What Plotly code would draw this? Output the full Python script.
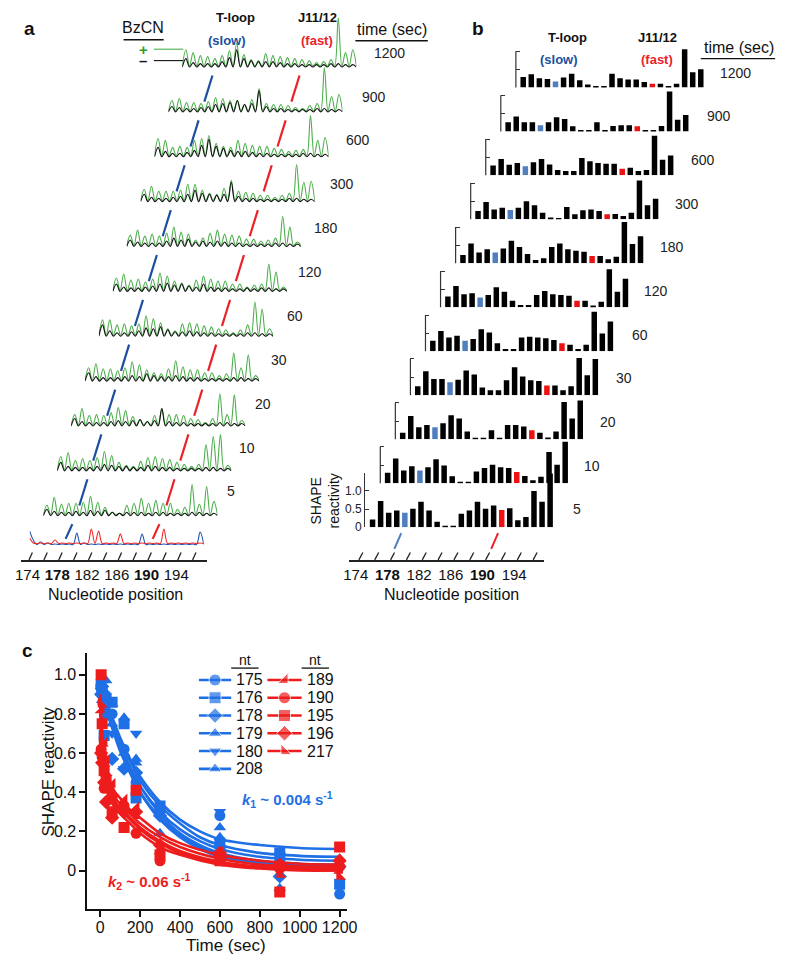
import plotly.graph_objects as go

W, H = 800, 964
OFF = 8                      # browser body margin
FIG_W, FIG_H = W - 2 * OFF, H - 2 * OFF
FONT = "Arial, Liberation Sans, Helvetica, sans-serif"

# ======================= DATA =======================
times = [5, 10, 20, 30, 60, 120, 180, 300, 600, 900, 1200]
time_labels = ["5", "10", "20", "30", "60", "120", "180", "300", "600", "900", "1200"]

# ---- panel b : SHAPE reactivity per nucleotide (174..196), one list per time ----
nts_b = list(range(174, 197))
bars_5 = [0.21, 0.72, 0.40, 0.46, 0.40, 0.51, 0.70, 0.46, 0.15, 0.02, 0.02, 0.37, 0.46, 0.70, 0.51, 0.60, 0.47, 0.52, 0.19, 0.28, 1.00, 0.70, 1.48]
bars_10 = [0.29, 0.68, 0.35, 0.47, 0.35, 0.44, 0.66, 0.49, 0.19, 0.03, 0.03, 0.32, 0.42, 0.51, 0.44, 0.42, 0.31, 0.20, 0.08, 0.18, 0.86, 0.51, 1.14]
bars_20 = [0.18, 0.64, 0.33, 0.39, 0.33, 0.44, 0.66, 0.57, 0.21, 0.01, 0.01, 0.25, 0.02, 0.39, 0.39, 0.35, 0.25, 0.18, 0.05, 0.21, 1.03, 0.57, 1.07]
bars_30 = [0.25, 0.66, 0.45, 0.45, 0.36, 0.43, 0.68, 0.57, 0.21, 0.14, 0.14, 0.41, 0.77, 0.52, 0.41, 0.39, 0.27, 0.27, 0.14, 0.25, 1.03, 0.55, 1.00]
bars_60 = [0.29, 0.56, 0.38, 0.43, 0.29, 0.34, 0.61, 0.52, 0.22, 0.06, 0.06, 0.38, 0.40, 0.38, 0.36, 0.31, 0.22, 0.18, 0.06, 0.18, 1.09, 0.49, 0.82]
bars_120 = [0.30, 0.59, 0.36, 0.39, 0.27, 0.34, 0.55, 0.43, 0.18, 0.06, 0.06, 0.34, 0.45, 0.36, 0.34, 0.32, 0.18, 0.18, 0.05, 0.15, 1.05, 0.43, 0.79]
bars_180 = [0.23, 0.55, 0.30, 0.39, 0.30, 0.41, 0.62, 0.45, 0.26, 0.09, 0.14, 0.45, 0.55, 0.39, 0.35, 0.32, 0.20, 0.20, 0.11, 0.18, 1.14, 0.53, 0.75]
bars_300 = [0.23, 0.48, 0.27, 0.32, 0.26, 0.32, 0.50, 0.39, 0.18, 0.05, 0.03, 0.34, 0.14, 0.25, 0.27, 0.23, 0.14, 0.15, 0.09, 0.18, 1.07, 0.39, 0.57]
bars_600 = [0.27, 0.45, 0.29, 0.34, 0.25, 0.36, 0.45, 0.30, 0.15, 0.12, 0.12, 0.48, 0.39, 0.34, 0.32, 0.32, 0.18, 0.21, 0.12, 0.15, 1.09, 0.43, 0.55]
bars_900 = [0.25, 0.41, 0.25, 0.25, 0.17, 0.25, 0.39, 0.34, 0.14, 0.02, 0.02, 0.25, 0.02, 0.15, 0.17, 0.17, 0.14, 0.02, 0.02, 0.15, 1.10, 0.32, 0.45]
bars_1200 = [0.29, 0.36, 0.25, 0.23, 0.16, 0.27, 0.38, 0.20, 0.08, 0.02, 0.03, 0.38, 0.25, 0.22, 0.22, 0.15, 0.10, 0.10, 0.03, 0.10, 1.05, 0.42, 0.50]
bars_all = [bars_5, bars_10, bars_20, bars_30, bars_60, bars_120, bars_180, bars_300, bars_600, bars_900, bars_1200]
slow_nt, fast_nt = 178, 190

# ---- panel a : electropherogram peak heights per nucleotide (174..197) ----
nts_a = list(range(174, 198))
green_5 = [11, 19, 12, 13, 13, 14, 20, 14, 9, 4, 3, 11, 13, 18, 13, 16, 13, 13, 7, 9, 32, 12, 30, 15]
green_10 = [15, 19, 11, 13, 11, 14, 20, 16, 9, 6, 5, 10, 14, 15, 13, 12, 9, 7, 5, 7, 27, 35, 37, 6]
green_20 = [12, 18, 11, 12, 11, 14, 19, 16, 10, 7, 5, 11, 18, 12, 12, 11, 8, 7, 4, 8, 33, 12, 32, 6]
green_30 = [14, 18, 13, 13, 11, 14, 20, 17, 12, 9, 8, 13, 21, 15, 12, 12, 9, 9, 6, 8, 29, 14, 27, 6]
green_60 = [17, 17, 12, 13, 11, 13, 21, 18, 14, 8, 6, 13, 14, 13, 11, 10, 8, 7, 4, 7, 12, 35, 28, 8]
green_120 = [14, 18, 12, 13, 10, 13, 19, 16, 11, 9, 7, 12, 16, 13, 11, 11, 8, 8, 5, 7, 8, 28, 20, 5]
green_180 = [12, 17, 11, 13, 11, 14, 20, 15, 13, 7, 9, 14, 17, 13, 12, 11, 8, 8, 6, 7, 9, 31, 20, 5]
green_300 = [13, 16, 11, 11, 11, 12, 18, 18, 12, 9, 8, 14, 22, 11, 10, 9, 7, 7, 5, 7, 9, 38, 20, 21]
green_600 = [19, 17, 10, 11, 10, 17, 19, 22, 14, 11, 10, 17, 14, 12, 11, 11, 9, 8, 6, 7, 8, 42, 17, 20]
green_900 = [12, 14, 10, 10, 9, 11, 15, 14, 12, 12, 8, 13, 24, 9, 8, 8, 7, 5, 4, 7, 9, 45, 16, 18]
green_1200 = [18, 15, 12, 11, 9, 12, 17, 25, 13, 8, 7, 14, 12, 11, 10, 9, 8, 7, 5, 6, 8, 50, 15, 18]
black_5 = [7, 5, 4, 4, 5, 4, 6, 5, 6, 4, 3, 4, 4, 4, 3, 4, 4, 3, 3, 3, 4, 4, 3, 3]
black_10 = [9, 5, 4, 4, 4, 5, 7, 6, 5, 5, 4, 4, 6, 5, 4, 4, 3, 3, 3, 3, 4, 4, 3, 3]
black_20 = [8, 5, 4, 4, 4, 5, 6, 5, 6, 7, 5, 6, 18, 5, 4, 4, 3, 3, 3, 3, 4, 4, 3, 3]
black_30 = [9, 5, 4, 4, 4, 5, 6, 5, 8, 6, 5, 5, 6, 5, 4, 4, 3, 3, 3, 3, 4, 4, 3, 3]
black_60 = [12, 6, 4, 4, 5, 6, 9, 8, 10, 7, 5, 5, 6, 5, 4, 4, 3, 3, 3, 3, 4, 4, 3, 3]
black_120 = [8, 5, 4, 4, 5, 6, 8, 9, 7, 8, 6, 5, 8, 5, 4, 4, 3, 3, 4, 3, 4, 4, 3, 3]
black_180 = [7, 5, 4, 4, 4, 6, 9, 7, 8, 5, 6, 5, 6, 5, 4, 4, 3, 3, 3, 3, 4, 4, 3, 3]
black_300 = [8, 5, 4, 4, 5, 6, 8, 12, 9, 8, 7, 8, 20, 6, 4, 4, 3, 3, 3, 3, 4, 4, 3, 3]
black_600 = [10, 6, 4, 4, 5, 7, 12, 18, 11, 9, 7, 6, 6, 5, 4, 4, 3, 3, 3, 3, 4, 4, 3, 3]
black_900 = [6, 5, 4, 4, 5, 6, 8, 9, 10, 12, 8, 9, 22, 6, 4, 4, 3, 3, 3, 3, 4, 4, 3, 3]
black_1200 = [9, 5, 4, 4, 4, 6, 10, 18, 9, 7, 6, 6, 6, 5, 4, 4, 3, 3, 3, 3, 4, 4, 3, 3]
green_all = [green_5, green_10, green_20, green_30, green_60, green_120, green_180, green_300, green_600, green_900, green_1200]
black_all = [black_5, black_10, black_20, black_30, black_60, black_120, black_180, black_300, black_600, black_900, black_1200]
green_trough, black_trough = 1.5, 0.5
# sequencing ladders under panel a
ladder_blue = [6, 4, 3, 2, 2, 2, 13, 3, 2, 2, 2, 2, 2, 2, 2, 12, 2, 2, 2, 2, 2, 2, 2, 14]
ladder_red = [3, 3, 3, 6, 3, 3, 3, 3, 17, 15, 3, 3, 12, 3, 3, 3, 3, 3, 17, 3, 3, 3, 3, 3]
ladder_blue_start, ladder_red_start = 15, 8
ladder_blue_trough, ladder_red_trough = 1.5, 2.5

axis_ticks_nt = [174, 178, 182, 186, 190, 194]
axis_ticks_txt = ["174", "<b>178</b>", "182", "186", "<b>190</b>", "194"]
minor_ticks_nt = list(range(174, 197, 2))

# ---- panel c : time courses ----
c_times = [5, 10, 20, 30, 60, 120, 180, 300, 600, 900, 1200]
blue_nts = ["175", "176", "178", "179", "180", "208"]
blue_symbols = ["circle", "square", "diamond", "triangle-up", "triangle-down", "triangle-up"]
blue_pts = [
    [0.93, 0.90, 0.88, 0.85, 0.80, 0.62, 0.45, 0.30, 0.28, 0.05, -0.12],
    [0.95, 0.92, 0.69, 0.88, 0.86, 0.75, 0.37, 0.33, 0.14, 0.09, -0.07],
    [0.90, 0.94, 0.85, 0.80, 0.57, 0.52, 0.50, 0.28, 0.12, -0.03, 0.02],
    [0.96, 0.93, 0.92, 0.97, 0.85, 0.78, 0.57, 0.19, 0.22, -0.09, 0.03],
    [0.92, 0.89, 0.90, 0.83, 0.70, 0.52, 0.70, 0.31, 0.30, 0.02, 0.04],
    [0.94, 0.87, 0.82, 0.78, 0.75, 0.60, 0.55, 0.32, 0.17, 0.10, 0.06],
]
red_nts = ["189", "190", "195", "196", "217"]
red_symbols = ["triangle-se", "circle", "square", "diamond", "triangle-sw"]
red_pts = [
    [0.82, 0.61, 0.65, 0.56, 0.44, 0.36, 0.32, 0.10, 0.09, 0.02, 0.00],
    [0.62, 0.58, 0.42, 0.43, 0.37, 0.33, 0.19, 0.05, 0.07, 0.01, 0.02],
    [1.00, 0.75, 0.51, 0.46, 0.30, 0.22, 0.41, 0.08, 0.05, -0.11, 0.12],
    [0.60, 0.55, 0.45, 0.35, 0.27, 0.30, 0.30, 0.13, 0.09, 0.03, 0.05],
    [0.85, 0.65, 0.55, 0.50, 0.40, 0.33, 0.28, 0.12, 0.06, -0.02, -0.03],
]
# fitted curves, read at sample times
blue_fit_t = [0, 25, 50, 100, 150, 200, 300, 400, 500, 600, 800, 1000, 1200]
blue_fits = [
    [0.93, 0.85, 0.77, 0.63, 0.52, 0.43, 0.30, 0.21, 0.15, 0.11, 0.07, 0.055, 0.05],
    [0.95, 0.88, 0.81, 0.68, 0.57, 0.48, 0.35, 0.26, 0.20, 0.16, 0.13, 0.115, 0.11],
    [0.92, 0.84, 0.76, 0.61, 0.50, 0.40, 0.27, 0.18, 0.12, 0.08, 0.04, 0.025, 0.02],
    [0.98, 0.89, 0.80, 0.65, 0.53, 0.43, 0.29, 0.19, 0.13, 0.09, 0.05, 0.035, 0.03],
    [0.97, 0.89, 0.81, 0.67, 0.56, 0.46, 0.33, 0.24, 0.17, 0.13, 0.09, 0.075, 0.07],
    [0.95, 0.86, 0.77, 0.62, 0.50, 0.40, 0.26, 0.17, 0.11, 0.07, 0.035, 0.022, 0.02],
]
red_fit_t = [0, 10, 20, 35, 50, 75, 100, 150, 200, 300, 400, 600, 800, 1000, 1200]
red_fits = [
    [0.85, 0.70, 0.60, 0.50, 0.45, 0.40, 0.37, 0.31, 0.27, 0.19, 0.14, 0.08, 0.05, 0.035, 0.03],
    [0.75, 0.62, 0.52, 0.44, 0.39, 0.34, 0.31, 0.26, 0.21, 0.14, 0.09, 0.04, 0.015, 0.005, 0.0],
    [0.90, 0.70, 0.57, 0.46, 0.40, 0.35, 0.32, 0.27, 0.22, 0.15, 0.10, 0.045, 0.02, 0.01, 0.01],
    [0.70, 0.57, 0.48, 0.40, 0.36, 0.32, 0.29, 0.24, 0.19, 0.12, 0.08, 0.03, 0.01, 0.0, 0.0],
    [0.80, 0.66, 0.56, 0.47, 0.42, 0.37, 0.34, 0.29, 0.24, 0.17, 0.12, 0.06, 0.03, 0.02, 0.02],
]

# ======================= STYLE / LAYOUT HELPERS =======================
BLUE_C = "#1f6fe6"
RED_C = "#ee1c1c"
DARK_BLUE = "#1d4f9e"
LINE_RED = "#ea2228"
GREEN = "#4cae4c"
BAR_BLUE = "#4f7fbf"
BAR_RED = "#ee1111"


def px_x(x):
    return (x - OFF) / FIG_W


def px_y(y):
    return 1 - (y - OFF) / FIG_H


fig = go.Figure()
axes_layout = {}
counter = [0]
shapes = []
annotations = []


def new_axes(xdom, ydom, xrange, yrange):
    counter[0] += 1
    k = counter[0]
    sfx = "" if k == 1 else str(k)
    xn, yn = "xaxis" + sfx, "yaxis" + sfx
    xr, yr = "x" + sfx, "y" + sfx
    axes_layout[xn] = dict(domain=[px_x(xdom[0]), px_x(xdom[1])], range=xrange, anchor=yr,
                           visible=False, fixedrange=True)
    axes_layout[yn] = dict(domain=[px_y(ydom[1]), px_y(ydom[0])], range=yrange, anchor=xr,
                           visible=False, fixedrange=True)
    return xr, yr, xn, yn


def text(x, y, s, size=14, color="#111", bold=False, xanchor="center", angle=0):
    annotations.append(dict(x=px_x(x), y=px_y(y), xref="paper", yref="paper",
                            text=("<b>%s</b>" % s) if bold else s,
                            showarrow=False, xanchor=xanchor, yanchor="middle", textangle=angle,
                            font=dict(size=size, color=color, family=FONT)))


def hline(x0, x1, y, color="#111", width=1.3):
    shapes.append(dict(type="line", xref="paper", yref="paper", x0=px_x(x0), x1=px_x(x1), y0=px_y(y), y1=px_y(y),
                       line=dict(color=color, width=width)))


def peaks_to_line(nts, peaks, trough, start=None):
    xs = [nts[0] - 0.5]
    ys = [trough if start is None else start]
    for n, p in zip(nts, peaks):
        xs += [n, n + 0.5]
        ys += [p, trough]
    return xs, ys


# ======================= PANEL C =======================
xr, yr, xn, yn = new_axes((83, 348), (658, 916), [-64, 1235], [-0.198, 1.11])
tick_style = dict(visible=True, showline=True, linecolor="#111", linewidth=2, ticks="outside", ticklen=6,
                  tickwidth=2, tickcolor="#111", showgrid=False, zeroline=False,
                  tickfont=dict(size=16, family=FONT, color="#111"))
axes_layout[xn].update(tickvals=[0, 200, 400, 600, 800, 1000, 1200], ticklabelstandoff=-3, **tick_style)
axes_layout[yn].update(tickvals=[0, 0.2, 0.4, 0.6, 0.8, 1.0], ticktext=["0", "0.2", "0.4", "0.6", "0.8", "1.0"],
                       **tick_style)

for fit in blue_fits:
    fig.add_trace(go.Scatter(x=blue_fit_t, y=fit, mode="lines", line=dict(color=BLUE_C, width=2.6, shape="spline", smoothing=0.8),
                             showlegend=False, hoverinfo="skip", xaxis=xr, yaxis=yr))
for sym, pts in zip(blue_symbols, blue_pts):
    fig.add_trace(go.Scatter(x=c_times, y=pts, mode="markers", marker=dict(symbol=sym, size=11, color=BLUE_C),
                             showlegend=False, xaxis=xr, yaxis=yr))
for fit in red_fits:
    fig.add_trace(go.Scatter(x=red_fit_t, y=fit, mode="lines", line=dict(color=RED_C, width=2.6, shape="spline", smoothing=0.8),
                             showlegend=False, hoverinfo="skip", xaxis=xr, yaxis=yr))
for sym, pts in zip(red_symbols, red_pts):
    fig.add_trace(go.Scatter(x=c_times, y=pts, mode="markers", marker=dict(symbol=sym, size=11, color=RED_C),
                             showlegend=False, xaxis=xr, yaxis=yr))

# hand-built legend (two columns, rows 17.9 px apart)
LEG_ROW0, LEG_DY = 685.0, 17.9
lxr, lyr, lxn, lyn = new_axes((190, 340), (676, 785), [0, 150],
                              [(785 - LEG_ROW0) / LEG_DY, (676 - LEG_ROW0) / LEG_DY])
for names, syms, colr, x0, x1 in ((blue_nts, blue_symbols, BLUE_C, 7, 40),
                                  (red_nts, red_symbols, RED_C, 77, 112)):
    for r, (nt, sym) in enumerate(zip(names, syms)):
        fig.add_trace(go.Scatter(x=[x0, (x0 + x1) / 2, x1], y=[r, r, r], mode="lines+markers",
                                 line=dict(color=colr, width=2.6),
                                 marker=dict(symbol=sym, size=[0, 12, 0], color=colr),
                                 showlegend=False, hoverinfo="skip", xaxis=lxr, yaxis=lyr))
        annotations.append(dict(x=x1 + 3, y=r, xref=lxr, yref=lyr, text=nt, showarrow=False, xanchor="left",
                                yanchor="middle", font=dict(size=16, family=FONT, color="#111")))

text(22, 655, "c", size=19, bold=True)
text(43, 777, "SHAPE reactivity", size=17, angle=-90)
text(225, 952, "Time (sec)", size=17)
text(244, 665, "nt", size=14)
text(316, 665, "nt", size=14)
hline(230, 258, 673)
hline(302, 330, 673)
text(288, 805, "<i>k</i><sub>1</sub> ~ 0.004 s<sup>-1</sup>", size=15, color=BLUE_C, bold=True)
text(146, 888, "<i>k</i><sub>2</sub> ~ 0.06 s<sup>-1</sup>", size=15, color=RED_C, bold=True)

# ======================= PANEL A =======================
A_W = 178.0
A_PXNT = A_W / 24
A_RANGE = [173.5, 197.5]


def a_geom(i):
    if i < 0:
        return 24.0, 550.0
    return 38.0 + 14.2 * i, 520.0 - 45.2 * i


a_axes = {}
x0, base = a_geom(-1)
xr, yr, xn, yn = new_axes((x0, x0 + A_W), (base - 57, base + 3), A_RANGE, [-3, 57])
a_axes[-1] = (xr, yr)
lx, ly = peaks_to_line(nts_a, ladder_blue, ladder_blue_trough, ladder_blue_start)
fig.add_trace(go.Scatter(x=lx, y=ly, mode="lines", line=dict(color="#2257b0", width=1.1, shape="spline"),
                         showlegend=False, hoverinfo="skip", xaxis=xr, yaxis=yr))
lx, ly = peaks_to_line(nts_a, ladder_red, ladder_red_trough, ladder_red_start)
fig.add_trace(go.Scatter(x=lx, y=ly, mode="lines", line=dict(color="#ee2a2a", width=1.1, shape="spline"),
                         showlegend=False, hoverinfo="skip", xaxis=xr, yaxis=yr))

for i in range(len(times)):
    x0, base = a_geom(i)
    xr, yr, xn, yn = new_axes((x0, x0 + A_W), (base - 57, base + 3), A_RANGE, [-3, 57])
    a_axes[i] = (xr, yr)
    gx, gy = peaks_to_line(nts_a, green_all[i], green_trough)
    bx, by = peaks_to_line(nts_a, black_all[i], black_trough)
    fig.add_trace(go.Scatter(x=gx, y=gy, mode="lines", line=dict(color=GREEN, width=1.1, shape="spline"),
                             showlegend=False, hoverinfo="skip", xaxis=xr, yaxis=yr))
    fig.add_trace(go.Scatter(x=bx, y=by, mode="lines", line=dict(color="#111", width=1.1, shape="spline"),
                             showlegend=False, hoverinfo="skip", xaxis=xr, yaxis=yr))
    text(230 + 16.2 * i, 495 - 44.2 * i, time_labels[i], size=14, color="#222")

# slanted dashed guide lines between rows
for i in range(len(times)):
    xu, bu = a_geom(i)
    xl, bl = a_geom(i - 1)
    gap = bl - bu
    dnt = (xu - xl) / A_PXNT
    h1, h2 = 0.24 * gap, gap - 8
    xr, yr = a_axes[i - 1]
    for nt, col in ((slow_nt, DARK_BLUE), (fast_nt, LINE_RED)):
        shapes.append(dict(type="line", xref=xr, yref=yr, x0=nt + dnt * h1 / gap, y0=h1,
                           x1=nt + dnt * h2 / gap, y1=h2, line=dict(color=col, width=2.2)))

xr, yr, xn, yn = new_axes((15, 205), (562, 564), [173.1, 198.1], [0, 1])
axes_layout[xn].update(visible=True, showline=True, linecolor="#222", linewidth=1.6, ticks="", showgrid=False,
                       zeroline=False, tickvals=axis_ticks_nt, ticktext=axis_ticks_txt,
                       tickfont=dict(size=15, family=FONT, color="#111"))
for nt in minor_ticks_nt:
    shapes.append(dict(type="line", xref=xr, yref="paper", x0=nt + 0.2, y0=px_y(564), x1=nt + 0.65, y1=px_y(556.5),
                       line=dict(color="#222", width=1.3)))
text(112, 599, "Nucleotide position", size=16)

text(24, 29, "a", size=19, bold=True)
text(140, 28, "BzCN", size=16)
hline(120, 161, 40)
text(140, 50, "+", size=15, color="#2e9e2e", bold=True)
text(140, 61, "–", size=15, color="#111", bold=True)
hline(151, 181, 49.5, color=GREEN, width=1.1)
hline(151, 181, 61, color="#111", width=1.1)
text(234, 18, "T-loop", size=13, bold=True)
text(226, 41, "(slow)", size=13, color=DARK_BLUE, bold=True)
text(318, 18, "J11/12", size=13, bold=True)
text(318, 41, "(fast)", size=13, color=LINE_RED, bold=True)
text(394, 30, "time (sec)", size=16)
hline(357, 431, 41)

# ======================= PANEL B =======================
B_PXNT = 8.25
B_UNIT = 36.5
B_RANGE = [173.09, 196.59]
b_axes = {}
for i in range(len(times)):
    ax_x = 367 + 15.4 * i
    base = 531 - 44.3 * i
    xr, yr, xn, yn = new_axes((ax_x, ax_x + (B_RANGE[1] - B_RANGE[0]) * B_PXNT), (base - 1.5 * B_UNIT, base),
                              B_RANGE, [0, 1.5])
    b_axes[i] = (xr, yr)
    axes_layout[yn].update(visible=True, showline=(i == 0), linecolor="#333", linewidth=1.2, showgrid=False,
                           zeroline=False, ticks="inside", ticklen=4, tickwidth=1.2, tickcolor="#333",
                           tickvals=[0, 0.5, 1.0], ticktext=["0", "0.5", "1.0"], showticklabels=(i == 0),
                           tickfont=dict(size=12, family=FONT, color="#222"))
    cols = [BAR_BLUE if n == slow_nt else BAR_RED if n == fast_nt else "#000" for n in nts_b]
    fig.add_trace(go.Bar(x=nts_b, y=bars_all[i], width=0.68, marker=dict(color=cols, line=dict(width=0)),
                         showlegend=False, hoverinfo="skip", xaxis=xr, yaxis=yr))
    if i > 0:
        shapes.append(dict(type="line", xref="paper", yref="paper", x0=px_x(ax_x), x1=px_x(ax_x),
                           y0=px_y(base), y1=px_y(base - 1.0 * B_UNIT), line=dict(color="#333", width=1.2)))
    text(583 + 16.2 * i, 513 - 44 * i, time_labels[i], size=14, color="#222")

xr, yr = b_axes[0]
for nt, col in ((slow_nt, BAR_BLUE), (fast_nt, LINE_RED)):
    shapes.append(dict(type="line", xref=xr, yref="paper", x0=nt - 0.45, y0=px_y(537), x1=nt - 1.3, y1=px_y(553),
                       line=dict(color=col, width=2)))

text(326, 505, "SHAPE<br>reactivity", size=14, angle=-90)

xr, yr, xn, yn = new_axes((350, 550), (562, 564), [173.1, 197.8], [0, 1])
axes_layout[xn].update(visible=True, showline=True, linecolor="#222", linewidth=1.6, ticks="", showgrid=False,
                       zeroline=False, tickvals=axis_ticks_nt, ticktext=axis_ticks_txt,
                       tickfont=dict(size=15, family=FONT, color="#111"))
for nt in minor_ticks_nt:
    shapes.append(dict(type="line", xref=xr, yref="paper", x0=nt + 0.4, y0=px_y(564), x1=nt + 0.9, y1=px_y(556.5),
                       line=dict(color="#222", width=1.3)))
text(455, 599, "Nucleotide position", size=16)

text(482, 29, "b", size=19, bold=True)
text(574, 38, "T-loop", size=13, bold=True)
text(565, 60, "(slow)", size=13, color=DARK_BLUE, bold=True)
text(666, 38, "J11/12", size=13, bold=True)
text(665, 60, "(fast)", size=13, color=LINE_RED, bold=True)
text(749, 48, "time (sec)", size=16)
hline(710, 786, 59)

# ======================= FINAL LAYOUT =======================
fig.update_layout(
    width=FIG_W, height=FIG_H, margin=dict(l=0, r=0, t=0, b=0),
    paper_bgcolor="white", plot_bgcolor="rgba(0,0,0,0)",
    font=dict(family=FONT, color="#111"), showlegend=False,
    shapes=shapes, annotations=annotations,
    **axes_layout,
)
fig.write_html("out.html")
